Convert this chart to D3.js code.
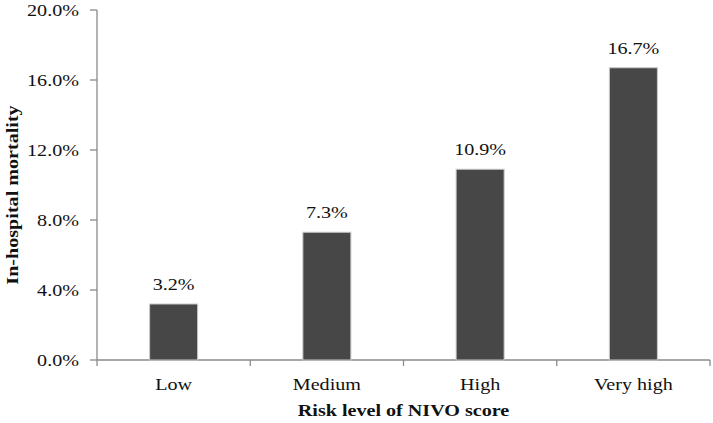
<!DOCTYPE html>
<html><head><meta charset="utf-8">
<script src="https://cdn.jsdelivr.net/npm/d3@7"></script>
<style>body{margin:0;background:#fff}svg{display:block}text{font-family:"Liberation Serif","Times New Roman",serif;fill:#111}</style>
</head><body><svg id="c" width="713" height="423"></svg>
<script>
const categories = ["Low", "Medium", "High", "Very high"];
const values = [3.2, 7.3, 10.9, 16.7];
const yTicks = [0, 4, 8, 12, 16, 20];
const xTitle = "Risk level of NIVO score";
const yTitle = "In-hospital mortality";

const svg = d3.select("#c");
const L = 97, R = 710, T = 10, B = 360;
const SX = 1.15, FS = 17.5;
const x = d3.scaleBand().domain(categories).range([L, R]).paddingInner(0).paddingOuter(0);
const y = d3.scaleLinear().domain([0, 20]).range([B, T]);
const axisColor = "#8a8a8a";

function txt(g, tx, ty, s, opts = {}) {
  const t = g.append("text")
    .attr("transform", `translate(${tx},${ty})${opts.rot ? " rotate(-90)" : ""} scale(${SX},1)`)
    .attr("text-anchor", opts.anchor || "middle")
    .attr("font-size", opts.fs || FS)
    .text(s);
  if (opts.bold) t.attr("font-weight", "bold");
  return t;
}

// y axis
const ya = svg.append("g");
ya.append("line").attr("x1", L).attr("x2", L).attr("y1", T).attr("y2", B).attr("stroke", axisColor).attr("stroke-width", 1.3);
yTicks.forEach(v => {
  ya.append("line").attr("x1", L - 7).attr("x2", L).attr("y1", y(v)).attr("y2", y(v)).attr("stroke", axisColor).attr("stroke-width", 1.3);
  txt(ya, L - 18, y(v) + 6, v.toFixed(1) + "%", {anchor: "end"});
});

// x axis
const xa = svg.append("g");
xa.append("line").attr("x1", L).attr("x2", R).attr("y1", B).attr("y2", B).attr("stroke", axisColor).attr("stroke-width", 1.3);
const bounds = categories.map(c => x(c)).concat([R]);
bounds.forEach(b => {
  xa.append("line").attr("x1", b).attr("x2", b).attr("y1", B).attr("y2", B + 6).attr("stroke", axisColor).attr("stroke-width", 1.3);
});
categories.forEach(c => txt(xa, x(c) + x.bandwidth() / 2, B + 30, c));

// bars
const bw = 48;
const bars = svg.append("g");
categories.forEach((c, i) => {
  const cx = x(c) + x.bandwidth() / 2;
  bars.append("rect").attr("x", cx - bw / 2).attr("y", y(values[i])).attr("width", bw).attr("height", B - y(values[i]))
    .attr("fill", "#474747").attr("stroke", "#c8c8c8").attr("stroke-width", 1);
  txt(bars, cx, y(values[i]) - 14, values[i].toFixed(1) + "%");
});

// titles
txt(svg, (L + R) / 2, 416, xTitle, {bold: true});
txt(svg, 18, (T + B) / 2 + 10, yTitle, {bold: true, rot: true});
</script></body></html>
